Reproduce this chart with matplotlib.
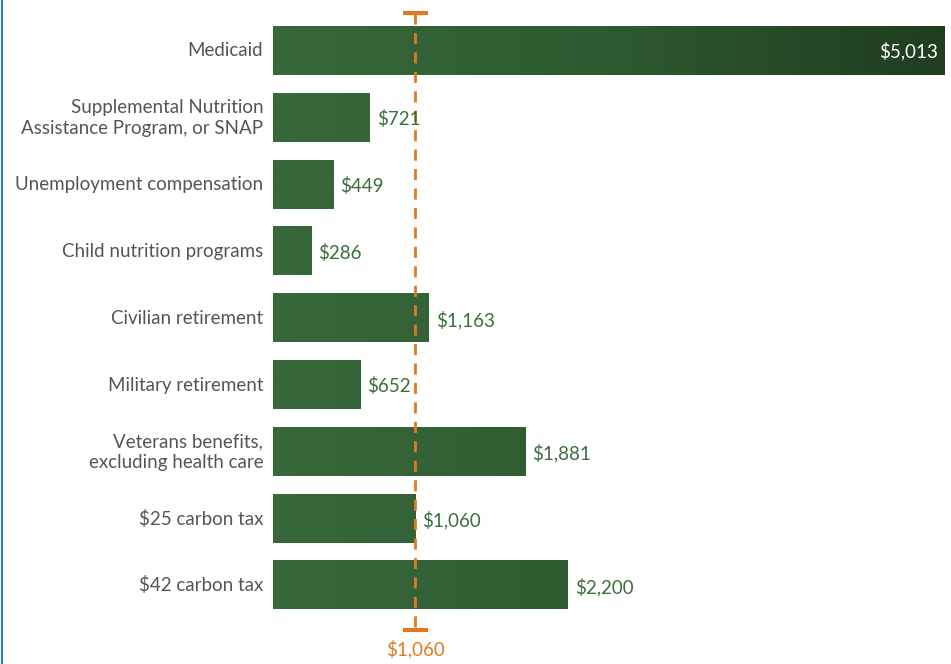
import numpy as np
import matplotlib.pyplot as plt
from matplotlib.colors import LinearSegmentedColormap

categories = ["Medicaid",
              "Supplemental Nutrition\nAssistance Program, or SNAP",
              "Unemployment compensation",
              "Child nutrition programs",
              "Civilian retirement",
              "Military retirement",
              "Veterans benefits,\nexcluding health care",
              "$25 carbon tax",
              "$42 carbon tax"]
values = [5013, 721, 449, 286, 1163, 652, 1881, 1060, 2200]
ref_value = 1060

plt.rcParams['font.family'] = ['Lato', 'DejaVu Sans']
fs = 13.5

fig = plt.figure(figsize=(9.51, 6.64), dpi=100)
ax = fig.add_axes([273 / 951, 0, (945 - 273) / 951, 1])

xmax = max(values)
n = len(values)
y0, step = 51, 66.8   # pixel centre of first bar, pixel spacing

cmap = LinearSegmentedColormap.from_list("grn", ["#37693a", "#2d5a30", "#203d20"])
h = 0.72
for i, v in enumerate(values):
    grad = np.linspace(0, v / xmax, 256).reshape(1, -1)
    ax.imshow(grad, cmap=cmap, vmin=0, vmax=1, aspect='auto',
              extent=[0, v, i + h / 2, i - h / 2], interpolation='bilinear', zorder=1)
    lab = "${:,}".format(v)
    if v == xmax:
        ax.annotate(lab, (v, i), xytext=(-5, 0), textcoords='offset points',
                    ha='right', va='center', color='white', fontsize=fs, zorder=4)
    else:
        ax.annotate(lab, (v, i), xytext=(5, -1), textcoords='offset points',
                    ha='left', va='center', color='#3b6e3c', fontsize=fs, zorder=4)
    ax.annotate(categories[i], (0, i), xytext=(-7, 0), textcoords='offset points',
                ha='right', va='center', color='#555555', fontsize=fs,
                linespacing=1.25, annotation_clip=False)

ax.set_xlim(0, xmax)
ax.set_ylim((664 - y0) / step, -y0 / step)

# reference line
orange = '#e07a1f'
y_top = -0.57
y_bot = n - 1 + 0.67
ax.plot([ref_value, ref_value], [y_top, y_bot], color=orange, lw=2,
        dashes=(4, 3), zorder=3)
ax.plot([ref_value], [y_top], marker='_', markersize=18, mew=3, color=orange, zorder=3)
ax.plot([ref_value], [y_bot], marker='_', markersize=18, mew=3, color=orange, zorder=3)
ax.annotate("${:,}".format(ref_value), (ref_value, y_bot), xytext=(0, -7),
            textcoords='offset points', ha='center', va='top', color=orange,
            fontsize=fs)

ax.axis('off')

# left border
fig.add_artist(plt.Line2D([1.5 / 951, 1.5 / 951], [0, 1], color='#2f7bbf', lw=1.5))

fig.savefig("out.png", dpi=100)
